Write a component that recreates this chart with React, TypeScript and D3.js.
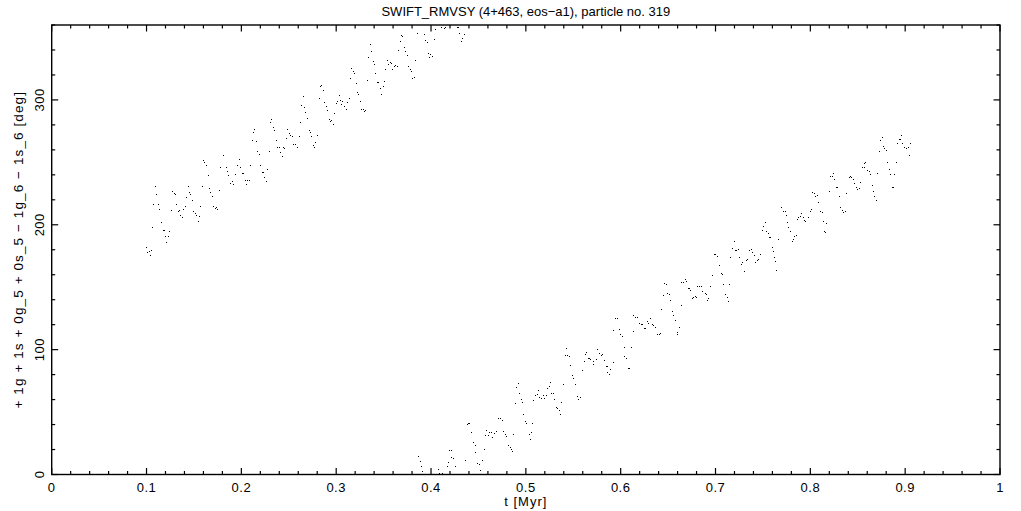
import React from 'react';
import * as d3 from 'd3';

// Upper branch (before the 360° wrap)
const upperT = [
0.0992,0.1002,0.1023,0.1034,0.1051,0.1061,0.1072,0.1093,0.1103,0.1124,
0.1135,0.1156,0.1169,0.1179,0.1198,0.1209,0.1230,0.1241,0.1262,0.1272,
0.1287,0.1304,0.1314,0.1335,0.1346,0.1357,0.1378,0.1388,0.1409,0.1420,
0.1441,0.1452,0.1462,0.1483,0.1494,0.1515,0.1525,0.1546,0.1557,0.1568,
0.1589,0.1593,0.1607,0.1628,0.1652,0.1662,0.1673,0.1694,0.1705,0.1726,
0.1736,0.1747,0.1768,0.1775,0.1804,0.1835,0.1849,0.1860,0.1881,0.1899,
0.1916,0.1937,0.1958,0.1979,0.1989,0.2011,0.2021,0.2039,0.2053,0.2063,
0.2081,0.2095,0.2116,0.2127,0.2137,0.2155,0.2166,0.2187,0.2197,0.2218,
0.2232,0.2243,0.2257,0.2274,0.2295,0.2306,0.2316,0.2338,0.2348,0.2366,
0.2377,0.2398,0.2408,0.2429,0.2443,0.2454,0.2475,0.2485,0.2503,0.2517,
0.2532,0.2549,0.2570,0.2584,0.2612,0.2622,0.2630,0.2654,0.2665,0.2675,
0.2690,0.2714,0.2725,0.2738,0.2756,0.2764,0.2781,0.2795,0.2816,0.2827,
0.2838,0.2859,0.2869,0.2890,0.2901,0.2922,0.2932,0.2946,0.2964,0.2981,
0.2999,0.3013,0.3027,0.3041,0.3052,0.3065,0.3087,0.3104,0.3118,0.3133,
0.3150,0.3160,0.3181,0.3192,0.3213,0.3224,0.3234,0.3255,0.3266,0.3287,
0.3297,0.3308,0.3329,0.3340,0.3361,0.3371,0.3392,0.3403,0.3414,0.3435,
0.3445,0.3466,0.3477,0.3498,0.3508,0.3519,0.3540,0.3551,0.3572,0.3582,
0.3593,0.3614,0.3625,0.3646,0.3656,0.3677,0.3688,0.3698,0.3719,0.3730,
0.3751,0.3762,0.3783,0.3793,0.3804,0.3825,0.3836,0.3857,0.3930,0.3941,
0.3962,0.3973,0.3983,0.3994,0.4015,0.4036,0.4047,0.4110,0.4141,0.4152,
0.4278,0.4289,0.4300,0.4321,0.4331,0.4352
];
const upperDeg = [
182.4,177.8,178.6,176,180,198.1,216.8,231.2,224.8,216.8,
212.8,202.4,196,196,191.2,186.4,191.2,195.2,212,227.2,
225.6,224.8,216.8,211.2,212,208,206.4,212.8,215.2,222.4,
231.2,226.4,224.8,220,211.2,209.6,208,203.2,207.2,215.2,
231.2,252,250.1,248,240,229.6,226.4,223.2,215.2,213.6,
214.4,212.8,228,246.6,256,246.6,243.4,240.2,233.6,235.2,
232.8,240.8,248.2,253,246.6,241.8,241.8,236,232.8,236,
236,248.2,268.2,274.4,276.8,267.4,259.4,256.8,248.2,242.6,
242.6,238.6,235.2,245,259.4,282.6,284.5,278.6,276.2,268.2,
262.6,262.6,258.6,255.4,262.6,261.8,269.6,276.8,273.6,272,
271.2,264.8,264.8,262.6,271.2,282.6,296,303.2,294.6,290.6,
285.6,276.2,274.1,271.4,264.2,262.6,266.6,272,301.8,311.2,
312,308,298.6,295.2,292,284.8,283.4,284.2,280.8,289.8,
297.3,298.9,303.7,300.2,297,299.4,295.4,292.8,298.6,301.6,
317.6,325.6,323.2,321.6,313.6,306.4,304.8,299.2,292.8,292.8,
291.2,292,316,334.4,344.8,339.2,331.2,328.8,321.6,314.4,
314.4,309.6,304.8,311.2,315.2,324.8,332,328.8,330.4,329.6,
324.8,327.2,328,327.2,340,347.2,352,351.2,342.4,339.2,
336,327.2,324.8,323.2,317.6,318.4,332,353.6,352.8,348,
346.4,337.6,334.4,336.8,335.2,348.8,356.8,358.4,357.6,358.4,
358.4,358.4,353.6,347.2,349.6,352.8
];

// Lower branch (after the wrap through 360° -> 0°)
const lowerT = [
0.3867,0.3885,0.3899,0.3909,0.4068,0.4078,0.4089,0.4114,0.4173,0.4184,
0.4194,0.4215,0.4215,0.4236,0.4257,0.4363,0.4378,0.4395,0.4405,0.4426,
0.4441,0.4462,0.4468,0.4483,0.4504,0.4515,0.4542,0.4563,0.4574,0.4584,
0.4606,0.4616,0.4634,0.4648,0.4666,0.4687,0.4711,0.4732,0.4750,0.4764,
0.4785,0.4795,0.4816,0.4831,0.4845,0.4859,0.4869,0.4890,0.4901,0.4919,
0.4932,0.4947,0.4964,0.4975,0.4996,0.5006,0.5032,0.5042,0.5053,0.5070,
0.5080,0.5101,0.5116,0.5130,0.5143,0.5162,0.5179,0.5193,0.5217,0.5228,
0.5243,0.5256,0.5270,0.5288,0.5302,0.5316,0.5333,0.5348,0.5362,0.5372,
0.5394,0.5418,0.5425,0.5439,0.5457,0.5467,0.5488,0.5499,0.5520,0.5538,
0.5552,0.5573,0.5597,0.5612,0.5629,0.5639,0.5654,0.5668,0.5681,0.5703,
0.5713,0.5742,0.5755,0.5773,0.5791,0.5808,0.5819,0.5840,0.5854,0.5861,
0.5882,0.5892,0.5914,0.5924,0.5935,0.5945,0.5966,0.5981,0.5995,0.6016,
0.6030,0.6040,0.6058,0.6076,0.6093,0.6104,0.6125,0.6135,0.6156,0.6177,
0.6198,0.6213,0.6230,0.6245,0.6259,0.6276,0.6293,0.6311,0.6329,0.6346,
0.6364,0.6385,0.6403,0.6417,0.6430,0.6451,0.6462,0.6480,0.6491,0.6512,
0.6525,0.6536,0.6554,0.6568,0.6589,0.6599,0.6610,0.6631,0.6641,0.6659,
0.6675,0.6694,0.6705,0.6719,0.6736,0.6749,0.6765,0.6781,0.6797,0.6810,
0.6826,0.6844,0.6860,0.6884,0.6902,0.6915,0.6926,0.6947,0.6958,0.6979,
0.6997,0.7015,0.7032,0.7057,0.7068,0.7084,0.7099,0.7116,0.7131,0.7137,
0.7158,0.7173,0.7190,0.7201,0.7219,0.7232,0.7243,0.7264,0.7278,0.7303,
0.7321,0.7335,0.7352,0.7369,0.7384,0.7401,0.7419,0.7437,0.7451,0.7468,
0.7489,0.7503,0.7521,0.7535,0.7549,0.7567,0.7577,0.7591,0.7606,0.7616,
0.7630,0.7637,0.7661,0.7690,0.7711,0.7728,0.7743,0.7753,0.7767,0.7781,
0.7806,0.7816,0.7830,0.7851,0.7862,0.7873,0.7890,0.7904,0.7922,0.7936,
0.7946,0.7975,0.7992,0.8006,0.8020,0.8034,0.8049,0.8070,0.8083,0.8101,
0.8118,0.8133,0.8147,0.8154,0.8168,0.8192,0.8210,0.8228,0.8239,0.8252,
0.8270,0.8281,0.8298,0.8316,0.8329,0.8347,0.8365,0.8379,0.8403,0.8418,
0.8432,0.8445,0.8460,0.8477,0.8492,0.8509,0.8519,0.8548,0.8561,0.8566,
0.8579,0.8597,0.8614,0.8624,0.8646,0.8660,0.8674,0.8692,0.8706,0.8724,
0.8738,0.8751,0.8766,0.8780,0.8793,0.8808,0.8825,0.8835,0.8857,0.8867,
0.8878,0.8899,0.8914,0.8931,0.8941,0.8952,0.8966,0.8983,0.9004,0.9025,
0.9040,0.9054
];
const lowerDeg = [
15.2,10.9,7.2,3.2,0.8,4.5,1.6,1.6,7.2,10.4,
20,20,14.1,13.3,6.6,12,40.2,41.6,41.6,34.4,
26.4,24,18.4,9.3,8.2,4,12,20.8,31.4,36,
32,33.8,33.8,29.8,33.6,35.2,45.6,45.6,44,35.2,
32.8,31.2,24,22.4,20.8,19.2,32.8,57.6,70.4,73.6,
65.6,60.8,58.1,48.8,43.2,41.6,32.8,28.8,34.4,41.6,
60,63.7,64.5,68,62.1,61.3,63.7,61.6,63.7,69.6,
71.2,74.4,65.6,65.6,60.5,54.4,53.6,52,48.2,58.4,
72.8,96,101.6,96,94.6,88,80,77.6,72.8,63.2,
60.8,62.4,84,91.2,96.8,98.1,93.6,93.6,92.8,88.8,
91.2,92.8,100.8,97.6,96,96.8,91.7,87.2,87.2,81.8,
80.2,84.8,90.4,116,125.6,125.6,125.6,116.8,112.8,110.6,
102.4,95.2,93.6,85.6,85.6,102.4,115.2,127.7,126.4,126.1,
121.6,120.2,120.8,117,117,122.9,121.3,125.6,120.8,120,
118.1,112.2,112.2,113.3,132.8,144,153.6,152.8,145.6,144.8,
140,131.2,128,124,114.4,112.8,118.4,136,154.4,154.4,
156.5,155,149.6,149.4,148,141.6,142.5,143,142.2,151,
150.8,151.2,147,145,144.9,140,141.6,151.2,160,176.8,
176.8,175.2,168,161,160.2,152.8,144.2,142.1,139.2,152.2,
174.4,181.6,187.2,179.4,180,180.8,174.1,168.8,170.1,162.9,
171.4,172.8,180,180.8,178.4,175.7,170.4,171.4,172.8,176.8,
196,199.4,202.4,194.9,193.6,190.6,190.4,182.1,178.9,174.1,
170.9,164,188.8,214.1,211.4,211.4,208.2,202.1,198.6,195.4,
186.9,188.5,191.4,192,204.5,206.1,206.9,209.3,206.1,204,
203.2,206.1,211.4,212.5,226.4,225.3,223.4,224.2,218.6,211.4,
210.1,203.4,195.4,194.1,201.8,227.4,239.4,239.4,241.6,236.8,
230.6,230.1,223.2,214.1,212,210.6,211.4,225.3,238.1,239.2,
238.1,237,233.6,230.1,229,229.8,234.4,246.6,246.6,249.3,
250.1,244,242.9,240.8,232.2,226.9,223.2,220.2,241.6,258.9,
268,270.6,263.2,261.6,260,250.4,244.8,240.8,230.6,230.6,
240.8,250.4,265.8,268.8,268.8,272,265.3,262.1,261.6,262.6,
256.2,265.3
];

const xMajorTicks = [0, 0.1, 0.2, 0.3, 0.4, 0.5, 0.6, 0.7, 0.8, 0.9, 1];
const xTickLabels = ['0', '0.1', '0.2', '0.3', '0.4', '0.5', '0.6', '0.7', '0.8', '0.9', '1'];
const yMajorTicks = [0, 100, 200, 300];
const yTickLabels = ['0', '100', '200', '300'];

const titleText = 'SWIFT_RMVSY (4+463, eos\u2212a1), particle no. 319';
const xLabelText = 't [Myr]';
const yLabelText = '+ 1g + 1s + 0g_5 + 0s_5 \u2212 1g_6 \u2212 1s_6 [deg]';

const W = 1021;
const H = 511;
const FONT = "'Liberation Sans', Arial, sans-serif";

export default function App() {
  const x = d3.scaleLinear().domain([0, 1]).range([51.7, 1000]);
  const y = d3.scaleLinear().domain([0, 360]).range([474.5, 25]);
  const xMinor = d3.range(0, 51).map((i) => i / 50);
  const yMinor = d3.range(0, 19).map((i) => i * 20);

  const points = [
    ...upperT.map((t, i) => [t, upperDeg[i]]),
    ...lowerT.map((t, i) => [t, lowerDeg[i]]),
  ];

  const [x0, x1] = x.range();
  const [y0, y1] = y.range();

  return (
    <svg
      width={W}
      height={H}
      style={{ position: 'absolute', left: 0, top: 0, background: '#fff' }}
      fontFamily={FONT}
    >
      <rect x={0} y={0} width={W} height={H} fill="#fff" />
      {/* dots */}
      <g fill="#000" shapeRendering="crispEdges">
        {points.map(([t, d], i) => (
          <rect key={i} x={Math.round(x(t))} y={Math.round(y(d))} width={1} height={1} />
        ))}
      </g>
      {/* ticks */}
      <g stroke="#000" strokeWidth={1.2}>
        {xMinor.map((v, i) => {
          const major = i % 5 === 0;
          const len = major ? 6.5 : 3.5;
          return (
            <g key={'xt' + i}>
              <line x1={x(v)} x2={x(v)} y1={y0} y2={y0 - len} />
              <line x1={x(v)} x2={x(v)} y1={y1} y2={y1 + len} />
            </g>
          );
        })}
        {yMinor.map((v, i) => {
          const major = v % 100 === 0;
          const len = major ? 6.5 : 3.5;
          return (
            <g key={'yt' + i}>
              <line x1={x0} x2={x0 + len} y1={y(v)} y2={y(v)} />
              <line x1={x1} x2={x1 - len} y1={y(v)} y2={y(v)} />
            </g>
          );
        })}
      </g>
      {/* frame */}
      <rect x={x0} y={y1} width={x1 - x0} height={y0 - y1} fill="none" stroke="#000" strokeWidth={1.4} />
      {/* x tick labels */}
      <g fontSize={13} textAnchor="middle" fill="#000" letterSpacing={0.5}>
        {xMajorTicks.map((v, i) => (
          <text key={'xl' + i} x={x(v)} y={492}>
            {xTickLabels[i]}
          </text>
        ))}
      </g>
      {/* y tick labels (rotated) */}
      <g fontSize={13} textAnchor="middle" fill="#000" letterSpacing={0.5}>
        {yMajorTicks.map((v, i) => (
          <text key={'yl' + i} transform={`translate(43.5,${y(v)}) rotate(-90)`}>
            {yTickLabels[i]}
          </text>
        ))}
      </g>
      {/* title */}
      <text x={(x0 + x1) / 2} y={15.5} fontSize={13} textAnchor="middle" fill="#000">
        {titleText}
      </text>
      {/* x label */}
      <text x={(x0 + x1) / 2} y={506} fontSize={13} textAnchor="middle" fill="#000" letterSpacing={1}>
        {xLabelText}
      </text>
      {/* y label */}
      <text
        transform={`translate(22.5,${(y0 + y1) / 2}) rotate(-90)`}
        fontSize={13.5}
        textAnchor="middle"
        fill="#000"
        letterSpacing={1.1}
      >
        {yLabelText}
      </text>
    </svg>
  );
}
